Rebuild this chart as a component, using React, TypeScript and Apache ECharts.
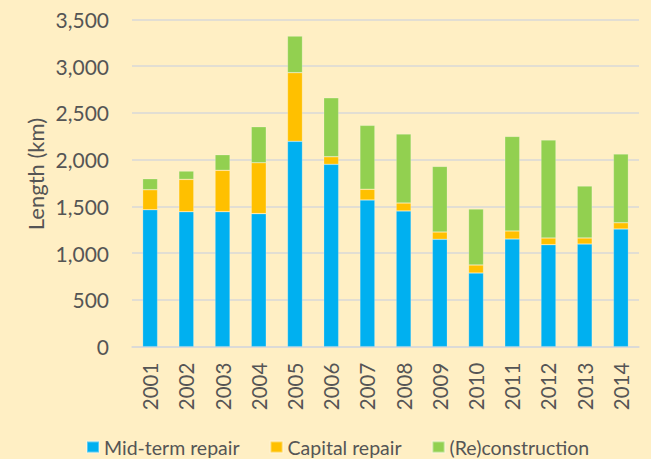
import React, { useEffect, useRef } from "react";
import * as echarts from "echarts";

const years = ["2001","2002","2003","2004","2005","2006","2007","2008","2009","2010","2011","2012","2013","2014"];
const midTerm = [1465, 1444, 1444, 1423, 2197, 1951, 1569, 1452, 1149, 788, 1152, 1091, 1098, 1259];
const capital = [214, 346, 443, 545, 734, 81, 115, 85, 78, 86, 86, 72, 65, 67];
const reconstruction = [118, 89, 167, 385, 392, 631, 684, 738, 702, 599, 1012, 1048, 556, 735];
const seriesNames = ["Mid-term repair", "Capital repair", "(Re)construction"];
const colors = ["#00B0F0", "#FFC000", "#92D050"];

const FONT = "Lato";
const TEXT = "#555555";

export default function App() {
  const ref = useRef<HTMLDivElement>(null);
  useEffect(() => {
    const chart = echarts.init(ref.current!, null, { renderer: "svg" });
    const data = [midTerm, capital, reconstruction];
    chart.setOption({
      animation: false,
      backgroundColor: "#FFEFC4",
      textStyle: { fontFamily: FONT, color: TEXT },
      grid: { left: 132, right: 12, top: 19.5, bottom: 112.3 },
      legend: {
        left: 86,
        top: 437,
        padding: 0,
        icon: "rect",
        itemWidth: 12,
        itemHeight: 11,
        itemGap: 30,
        textStyle: { fontFamily: FONT, fontSize: 19.5, color: TEXT },
        data: seriesNames,
      },
      graphic: [
        {
          type: "text",
          x: 35,
          y: 174,
          rotation: Math.PI / 2,
          style: {
            text: "Length (km)",
            fontFamily: FONT,
            fontSize: 22,
            fill: TEXT,
            align: "center",
            verticalAlign: "middle",
          },
        },
      ],
      xAxis: {
        type: "category",
        data: years,
        axisTick: { show: false },
        axisLine: { show: true, lineStyle: { color: "#D9D9D9", width: 1.5 } },
        axisLabel: { rotate: 90, margin: 16, fontFamily: FONT, fontSize: 20.5, color: TEXT },
      },
      yAxis: {
        type: "value",
        min: 0,
        max: 3500,
        interval: 500,
        axisLine: { show: false },
        axisTick: { show: false },
        splitLine: { lineStyle: { color: "#D9D9D9", width: 1.5 } },
        axisLabel: {
          margin: 23,
          fontFamily: FONT,
          fontSize: 21,
          color: TEXT,
          formatter: (v: number) => v.toLocaleString("en-US"),
        },
      },
      series: seriesNames.map((name, i) => ({
        name,
        type: "bar",
        stack: "total",
        barWidth: 15,
        data: data[i],
        itemStyle: { color: colors[i], borderColor: "rgba(255,255,255,0.35)", borderWidth: 0.6 },
      })),
    });
    return () => chart.dispose();
  }, []);
  return <div ref={ref} style={{ width: 651, height: 459, position: "absolute", left: 0, top: 0 }} />;
}
